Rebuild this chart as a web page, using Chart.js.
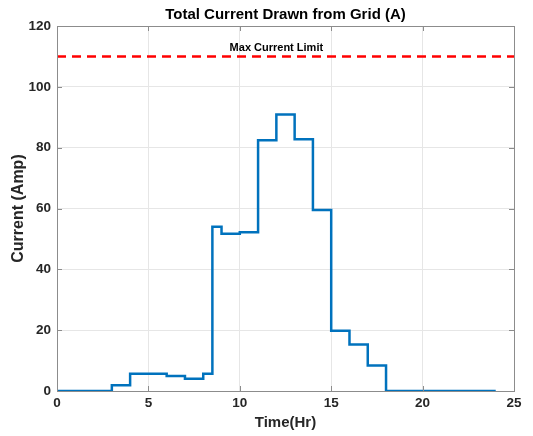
<!DOCTYPE html>
<html>
<head>
<meta charset="utf-8">
<script src="https://cdn.jsdelivr.net/npm/chart.js@4/dist/chart.umd.min.js"></script>
<style>
  html, body { margin: 0; padding: 0; background: #fff; }
  #wrap { width: 533px; height: 436px; }
</style>
</head>
<body>
<div id="wrap"><canvas id="gridChart"></canvas></div>
<script>
// step edges (hours) and current held from each edge to the next
const stepTimes = [0, 3, 4, 6, 7, 8, 8.5, 9, 10, 11, 12, 13, 14, 15, 16, 17, 18, 24];
const stepCurrent = [0, 1.9, 5.7, 4.9, 4.0, 5.7, 54, 51.7, 52.2, 82.4, 90.9, 82.8, 59.5, 19.8, 15.3, 8.4, 0, 0];
const limitTimes = [0, 25];
const limitCurrent = [110, 110];
const xTicks = [0, 5, 10, 15, 20, 25];
const yTicks = [0, 20, 40, 60, 80, 100, 120];

const font = "'Liberation Sans', Arial, sans-serif";

// MATLAB-like box, inward ticks, title over the axes and the limit label
const boxPlugin = {
  id: "boxPlugin",
  afterDraw(chart) {
    const { ctx, chartArea: a, scales } = chart;
    ctx.save();
    ctx.strokeStyle = "#8c8c8c";
    ctx.lineWidth = 1;
    ctx.strokeRect(a.left + 0.5, a.top + 0.5, a.right - a.left, a.bottom - a.top);
    ctx.beginPath();
    xTicks.forEach((v) => {
      const px = Math.round(scales.x.getPixelForValue(v)) + 0.5;
      ctx.moveTo(px, a.bottom); ctx.lineTo(px, a.bottom - 5);
      ctx.moveTo(px, a.top); ctx.lineTo(px, a.top + 5);
    });
    yTicks.forEach((v) => {
      const py = Math.round(scales.y.getPixelForValue(v)) + 0.5;
      ctx.moveTo(a.left, py); ctx.lineTo(a.left + 5, py);
      ctx.moveTo(a.right, py); ctx.lineTo(a.right - 5, py);
    });
    ctx.stroke();

    ctx.fillStyle = "#000";
    ctx.textAlign = "center";
    ctx.textBaseline = "middle";
    ctx.font = "bold 15px " + font;
    ctx.fillText("Total Current Drawn from Grid (A)", (a.left + a.right) / 2, 15);

    ctx.font = "bold 11px " + font;
    ctx.textBaseline = "bottom";
    ctx.fillText("Max Current Limit", scales.x.getPixelForValue(12), scales.y.getPixelForValue(110) - 3);
    ctx.restore();
  },
};

const ctx = document.getElementById("gridChart").getContext("2d");
new Chart(ctx, {
  type: "line",
  data: {
    datasets: [
      {
        label: "Grid current",
        data: stepTimes.map((t, i) => ({ x: t, y: stepCurrent[i] })),
        stepped: "before",
        borderColor: "#0072BD",
        borderWidth: 2.5,
        pointRadius: 0,
        fill: false,
      },
      {
        label: "Max Current Limit",
        data: limitTimes.map((t, i) => ({ x: t, y: limitCurrent[i] })),
        borderColor: "#FF0000",
        borderWidth: 2.5,
        borderDash: [9, 6],
        pointRadius: 0,
        fill: false,
      },
    ],
  },
  options: {
    responsive: true,
    maintainAspectRatio: false,
    animation: false,
    layout: { padding: { left: 0, right: 19, top: 26, bottom: 0 } },
    plugins: {
      legend: { display: false },
      tooltip: { enabled: false },
      title: { display: false },
    },
    scales: {
      x: {
        type: "linear",
        min: 0,
        max: 25,
        afterFit(s) { s.height = 45; },
        ticks: {
          stepSize: 5,
          color: "#262626",
          padding: 4,
          font: { family: font, size: 13.5, weight: "bold" },
        },
        grid: { color: "#e6e6e6", drawTicks: false },
        border: { display: false },
        title: {
          display: true,
          text: "Time(Hr)",
          color: "#262626",
          padding: { top: 0, bottom: 4 },
          font: { family: font, size: 15, weight: "bold" },
        },
      },
      y: {
        min: 0,
        max: 120,
        afterFit(s) { s.width = 57; },
        ticks: {
          stepSize: 20,
          color: "#262626",
          padding: 6,
          font: { family: font, size: 13.5, weight: "bold" },
        },
        grid: { color: "#e6e6e6", drawTicks: false },
        border: { display: false },
        title: {
          display: true,
          text: "Current (Amp)",
          color: "#262626",
          padding: { top: 9, bottom: 0 },
          font: { family: font, size: 16, weight: "bold" },
        },
      },
    },
  },
  plugins: [boxPlugin],
});
</script>
</body>
</html>
